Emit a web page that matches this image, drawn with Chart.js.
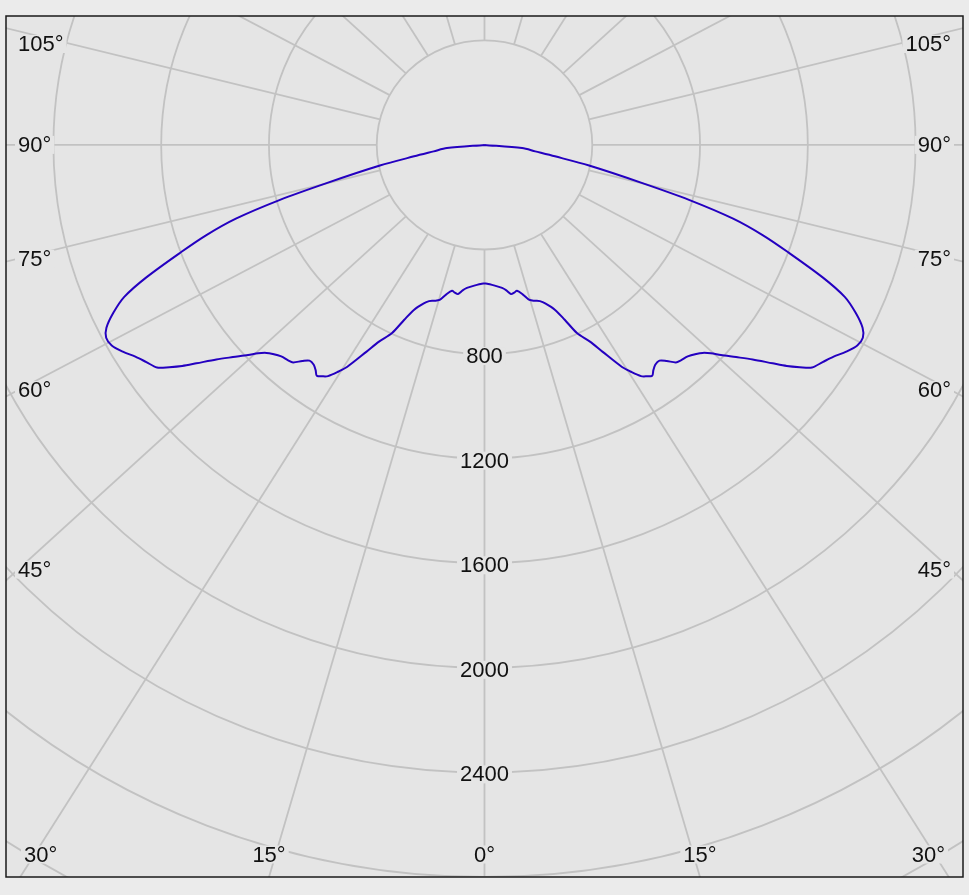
<!DOCTYPE html>
<html>
<head>
<meta charset="utf-8">
<script src="https://cdn.jsdelivr.net/npm/chart.js@4.4.1/dist/chart.umd.min.js"></script>
<style>
  html, body { margin: 0; padding: 0; background: #ebebeb; }
  canvas { display: block; }
</style>
</head>
<body>
<canvas id="chart" width="969" height="895"></canvas>
<script>
// gamma angle (deg, 0 = straight down) and luminous intensity (cd), one half plane
const gammaAngles = [
  90, 85, 82.5, 80.5, 78.5, 76, 74.5, 73, 71.5, 70, 68, 66.5, 65, 63.5, 62.3,
  61, 59.5, 58, 56.5, 55, 54, 53, 52, 50.5, 49, 47.5, 46.5, 45.5, 44.5, 43,
  41.5, 40.5, 39.3, 38.2, 37, 36, 35.2, 34.2, 33.3, 32, 31, 29, 27.5, 25.5, 24,
  22.5, 20.5, 19, 17.5, 15.7, 14, 12.2, 11, 9.8, 8.3, 6.8, 5, 3, 1.5, 0
];
const intensities = [
  0, 140, 190, 265, 396, 604, 790, 965, 1090, 1198, 1355, 1458, 1520, 1568, 1586,
  1582, 1558, 1528, 1505, 1484, 1446, 1405, 1357, 1290, 1237, 1190, 1158, 1135, 1121, 1106,
  1100, 1094, 1068, 1050, 1053, 1066, 1080, 1070, 1058, 1022, 991, 905, 848, 797, 732,
  682, 648, 632, 625, 616, 590, 571, 576, 579, 562, 551, 543, 536, 532, 530
];

const ringValues = [400, 800, 1200, 1600, 2000, 2400, 2800, 3200];
const ringLabels = [800, 1200, 1600, 2000, 2400];
const spokeAngles = [0, 15, 30, 45, 60, 75, 90, 105, 120, 135, 150, 165,
                     180, 195, 210, 225, 240, 255, 270, 285, 300, 315, 330, 345];
const sideLabels = [45, 60, 75, 90, 105];
const bottomLabels = [0, 15, 30];

const BG = "#e5e5e5";
const GRID = "#c2c2c2";
const FONT = "22px 'Liberation Sans', Arial, sans-serif";
const gridStretch = 1.066;
const innerRing = 400;

// left half goes 90 -> 0, right half comes back 0 -> 90
const curve = [];
gammaAngles.forEach((a, i) => {
  const t = a * Math.PI / 180;
  curve.push({ x: -intensities[i] * Math.sin(t), y: -intensities[i] * Math.cos(t) });
});
for (let i = gammaAngles.length - 1; i >= 0; i--) {
  const t = gammaAngles[i] * Math.PI / 180;
  curve.push({ x: intensities[i] * Math.sin(t), y: -intensities[i] * Math.cos(t) });
}

function tag(ctx, text, x, y, align) {
  ctx.font = FONT;
  const w = ctx.measureText(text).width;
  const left = align === "left" ? x : align === "right" ? x - w : x - w / 2;
  ctx.fillStyle = BG;
  ctx.fillRect(left - 3, y - 9, w + 6, 18);
  ctx.fillStyle = "#111";
  ctx.textAlign = "left";
  ctx.textBaseline = "middle";
  ctx.fillText(text, left, y + 1);
}

const polarGrid = {
  id: "polarGrid",
  beforeDatasetsDraw(chart) {
    const { ctx, chartArea: a, scales: { x, y } } = chart;
    const px = v => x.getPixelForValue(v);
    const py = v => y.getPixelForValue(v);
    const cx = px(0), cy = py(0);

    const spoke = (deg, r) => {
      const t = deg * Math.PI / 180;
      const dx = Math.sin(t) * gridStretch, dy = -Math.cos(t);
      const n = Math.hypot(dx, dy);
      return { x: px(r * dx / n), y: py(r * dy / n) };
    };

    ctx.save();
    ctx.fillStyle = BG;
    ctx.fillRect(a.left, a.top, a.width, a.height);
    ctx.beginPath();
    ctx.rect(a.left, a.top, a.width, a.height);
    ctx.clip();

    ctx.strokeStyle = GRID;
    ctx.lineWidth = 1.8;
    ringValues.forEach(r => {
      ctx.beginPath();
      ctx.ellipse(cx, cy, px(r) - cx, cy - py(r), 0, 0, Math.PI * 2);
      ctx.stroke();
    });
    spokeAngles.forEach(deg => {
      const p0 = spoke(deg, innerRing), p1 = spoke(deg, 9000);
      ctx.beginPath();
      ctx.moveTo(p0.x, p0.y);
      ctx.lineTo(p1.x, p1.y);
      ctx.stroke();
    });

    // intensity labels down the 0 deg axis
    ringLabels.forEach(v => tag(ctx, String(v), cx, py(-v) + 2, "center"));

    // angle labels on the left and right edges
    sideLabels.forEach(deg => {
      [-1, 1].forEach(side => {
        const p0 = spoke(side * deg, innerRing), p1 = spoke(side * deg, 9000);
        const ex = side < 0 ? a.left + 12 : a.right - 12;
        let ly = p0.y + (p1.y - p0.y) * (ex - p0.x) / (p1.x - p0.x);
        ly = Math.max(a.top + 28, Math.min(a.bottom - 30, ly));
        tag(ctx, deg + "°", ex, ly, side < 0 ? "left" : "right");
      });
    });

    // angle labels along the bottom edge
    ctx.font = FONT;
    bottomLabels.forEach(deg => {
      [-1, 1].forEach(side => {
        if (deg === 0 && side > 0) return;
        const text = deg + "°";
        const w = ctx.measureText(text).width;
        const p0 = spoke(side * deg, innerRing), p1 = spoke(side * deg, 9000);
        let lx = p0.x + (p1.x - p0.x) * (a.bottom - p0.y) / (p1.y - p0.y);
        lx = Math.max(a.left + 18 + w / 2, Math.min(a.right - 18 - w / 2, lx));
        tag(ctx, text, lx, a.bottom - 22.5, "center");
        ctx.font = FONT;
      });
    });
    ctx.restore();
  },
  afterDraw(chart) {
    const { ctx, chartArea: a } = chart;
    ctx.save();
    ctx.strokeStyle = "#1a1a1a";
    ctx.lineWidth = 1.5;
    ctx.strokeRect(a.left, a.top, a.width, a.height);
    ctx.restore();
  }
};

new Chart(document.getElementById("chart"), {
  type: "scatter",
  data: {
    datasets: [{
      data: curve,
      showLine: true,
      borderColor: "#2400c0",
      borderWidth: 2,
      pointRadius: 0,
      tension: 0.3
    }]
  },
  options: {
    responsive: false,
    animation: false,
    layout: { padding: { left: 6, top: 16, right: 6, bottom: 18 } },
    plugins: { legend: { display: false }, tooltip: { enabled: false } },
    scales: {
      x: { type: "linear", min: -1776, max: 1776, display: false },
      y: { type: "linear", min: -2800, max: 493, display: false }
    }
  },
  plugins: [polarGrid]
});
</script>
</body>
</html>
